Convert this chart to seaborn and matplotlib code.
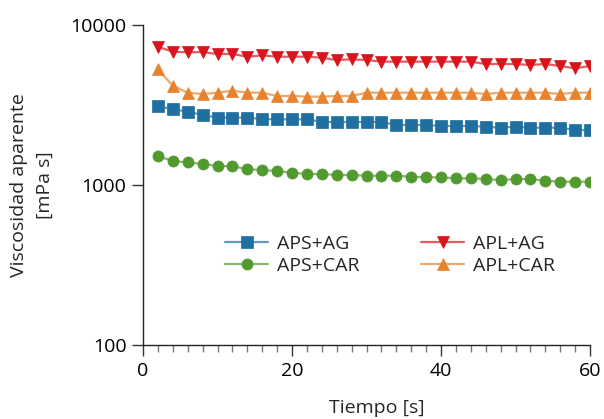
import numpy as np
import pandas as pd
import matplotlib
matplotlib.use("Agg")
import matplotlib.pyplot as plt
from matplotlib.colors import to_rgb
from matplotlib.ticker import FixedLocator, FixedFormatter, MultipleLocator, NullLocator
import seaborn as sns

tiempo = [2, 4, 6, 8, 10, 12, 14, 16, 18, 20, 22, 24, 26, 28, 30,
          32, 34, 36, 38, 40, 42, 44, 46, 48, 50, 52, 54, 56, 58, 60]

aps_ag = [3117, 2974, 2873, 2738, 2636, 2636, 2636, 2585, 2574, 2574, 2574, 2477, 2477, 2477, 2477,
          2477, 2371, 2371, 2371, 2337, 2337, 2337, 2315, 2281, 2315, 2281, 2281, 2281, 2207, 2207]
aps_car = [1517, 1413, 1386, 1352, 1314, 1314, 1253, 1241, 1223, 1194, 1172, 1172, 1155, 1155, 1143,
           1143, 1143, 1127, 1117, 1117, 1101, 1101, 1090, 1074, 1090, 1090, 1064, 1049, 1049, 1049]
apl_ag = [7316, 6808, 6749, 6776, 6586, 6586, 6339, 6460, 6339, 6339, 6339, 6248, 6043, 6100, 6043,
          5902, 5902, 5902, 5902, 5902, 5902, 5902, 5704, 5704, 5704, 5623, 5704, 5543, 5362, 5543]
apl_car = [5286, 4174, 3776, 3705, 3776, 3890, 3776, 3776, 3600, 3600, 3565, 3565, 3600, 3600, 3776,
           3776, 3776, 3776, 3776, 3776, 3776, 3776, 3705, 3776, 3776, 3776, 3776, 3705, 3776, 3776]

series_names = ["APS+AG", "APS+CAR", "APL+AG", "APL+CAR"]
series_values = [aps_ag, aps_car, apl_ag, apl_car]
colors = {"APS+AG": "#1f6fa0", "APS+CAR": "#529a2f", "APL+AG": "#d8141d", "APL+CAR": "#e7832f"}
markers = {"APS+AG": "s", "APS+CAR": "o", "APL+AG": "v", "APL+CAR": "^"}

xticks = [0, 20, 40, 60]
yticks = [100, 1000, 10000]
ytick_labels = ["100", "1000", "10000"]

df = pd.concat([pd.DataFrame({"Tiempo": tiempo, "Viscosidad": v, "Serie": n})
                for n, v in zip(series_names, series_values)], ignore_index=True)

sns.set_style("white")
plt.rcParams["font.family"] = ["Open Sans", "DejaVu Sans"]

fig = plt.figure(figsize=(6.04, 4.19), dpi=100)
ax = fig.add_axes([143/604, 1-345/419, (590-143)/604, (345-25)/419])

sns.lineplot(data=df, x="Tiempo", y="Viscosidad", hue="Serie", style="Serie",
             hue_order=series_names, style_order=series_names,
             palette=colors, markers=markers, dashes=False, legend=False,
             markersize=8, linewidth=1.6, ax=ax)

handles = []
for line, name in zip(ax.lines, series_names):
    c = colors[name]
    line.set_markerfacecolor(c)
    line.set_markeredgecolor(c)
    line.set_markeredgewidth(0.5)
    if name in ("APL+AG", "APL+CAR"):
        line.set_markersize(9)
    rgb = np.array(to_rgb(c))
    light = tuple(rgb + (1 - rgb) * 0.3)
    line.set_color(light)
    line.set_label(name)
    handles.append(line)

ax.set_yscale("log")
ax.set_xlim(0, 60)
ax.set_ylim(100, 10000)
ax.yaxis.set_major_locator(FixedLocator(yticks))
ax.yaxis.set_major_formatter(FixedFormatter(ytick_labels))
ax.yaxis.set_minor_locator(NullLocator())
ax.xaxis.set_major_locator(FixedLocator(xticks))
ax.xaxis.set_minor_locator(MultipleLocator(2))

for s in ["top", "right"]:
    ax.spines[s].set_visible(False)
for s in ["left", "bottom"]:
    ax.spines[s].set_color("#222222")
    ax.spines[s].set_linewidth(1.0)

ax.tick_params(axis="both", which="major", direction="out", length=8, width=1,
               color="#333333", labelsize=14, labelcolor="black", pad=4, left=True, bottom=True)
ax.tick_params(axis="x", which="minor", direction="out", length=5, width=1, color="#777777", bottom=True)

ax.set_xlabel("Tiempo [s]", fontsize=14)
ax.xaxis.set_label_coords((377-143)/447, -(408-345)/320)
ax.xaxis.label.set_va("center")
ax.set_ylabel("Viscosidad aparente\n[mPa s]", fontsize=14, linespacing=1.5)
ax.yaxis.set_label_coords(-(143-32)/447, 0.5)
ax.yaxis.label.set_va("center")

ax.legend(handles=handles, labels=series_names, ncol=2, frameon=False, fontsize=14,
          loc="center", bbox_to_anchor=((390-143)/447, (345-255)/320),
          handlelength=2.2, columnspacing=3.2, labelspacing=0.2, handletextpad=0.45)

fig.savefig("out.png", dpi=100)
